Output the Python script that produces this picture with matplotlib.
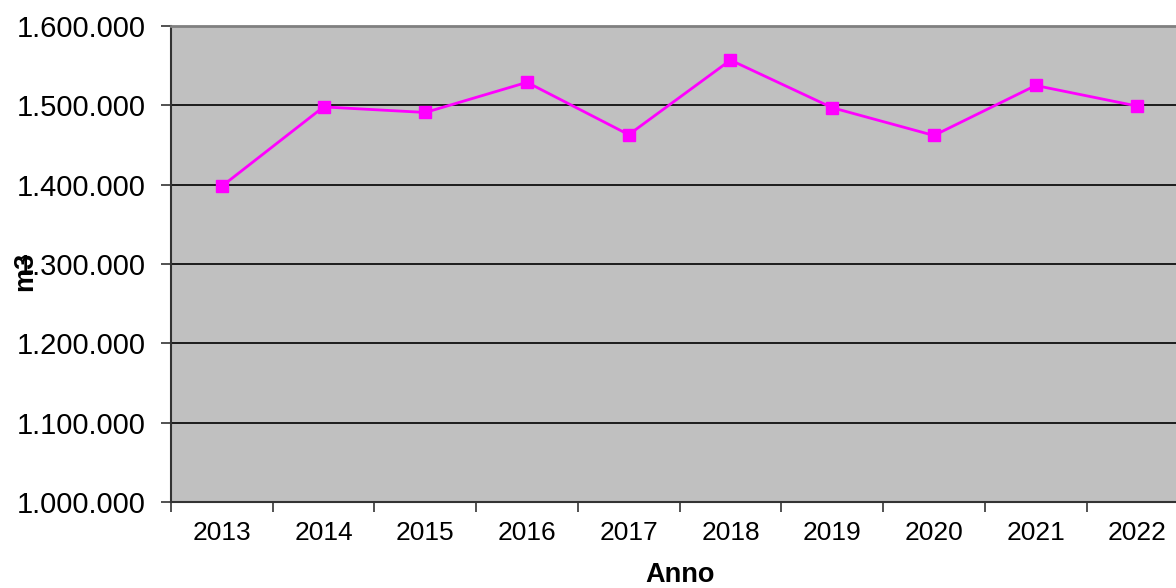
import matplotlib.pyplot as plt
import numpy as np

plt.rcParams['font.family'] = ['Liberation Sans', 'DejaVu Sans']

anni = ["2013", "2014", "2015", "2016", "2017", "2018", "2019", "2020", "2021", "2022"]
volumi = [1398000, 1498000, 1491000, 1529000, 1463000, 1557000, 1497000, 1462000, 1525000, 1499000]
y_ticks = [1000000, 1100000, 1200000, 1300000, 1400000, 1500000, 1600000]

fig = plt.figure(figsize=(11.76, 5.88), dpi=100)
ax = fig.add_axes([0.1454, 0.1463, 0.865, 0.8095])
ax.set_facecolor("#c0c0c0")

x = np.arange(len(anni))
ax.plot(x, volumi, color="#ff00ff", lw=2, marker="s", ms=8.5, zorder=3)

ax.set_xlim(-0.5, len(anni) - 0.5)
ax.set_ylim(1000000, 1600000)
ax.set_yticks(y_ticks)
ax.set_yticklabels([f"{v:,}".replace(",", ".") for v in y_ticks])
ax.yaxis.grid(True, color="black", lw=1.2)
ax.set_axisbelow(True)

ax.set_xticks(x)
ax.set_xticklabels(anni)
ax.set_xticks(np.arange(-0.5, len(anni), 1), minor=True)
ax.tick_params(axis="x", which="major", length=0, pad=14, labelsize=19)
ax.tick_params(axis="x", which="minor", length=7, width=1.2, color="#333333")
ax.tick_params(axis="y", length=7, width=1.2, color="#333333", pad=11, labelsize=21)

for side in ["left", "bottom"]:
    ax.spines[side].set_color("#333333")
    ax.spines[side].set_linewidth(1.5)
ax.spines["top"].set_color("#808080")
ax.spines["top"].set_linewidth(2)
ax.spines["right"].set_visible(False)

ax.set_xlabel("Anno", fontsize=19.5, fontweight="bold", labelpad=12)
ax.set_ylabel("m3", fontsize=19.5, fontweight="bold")
ax.yaxis.set_label_coords(-0.131, 0.485)

plt.savefig("out.png", dpi=100)
